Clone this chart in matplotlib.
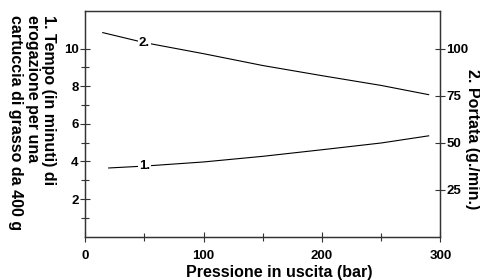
import matplotlib
matplotlib.use("Agg")
import matplotlib.pyplot as plt

plt.rcParams['font.family'] = ['Liberation Sans', 'DejaVu Sans']
plt.rcParams['font.weight'] = 'bold'

# curve 1: time per cartridge (minutes), left axis
press_1 = [20, 50, 100, 150, 200, 250, 290]
tempo = [3.65, 3.75, 3.97, 4.27, 4.62, 4.98, 5.36]

# curve 2: flow rate (g/min), right axis
press_2 = [15, 50, 100, 150, 200, 250, 290]
portata = [108.5, 103.2, 97.3, 91.0, 85.6, 80.4, 75.5]

x_ticks = [0, 100, 200, 300]
x_minor = [50, 150, 250]
left_ticks = [2, 4, 6, 8, 10]
left_minor = [1, 3, 5, 7, 9]
right_ticks = [25, 50, 75, 100]

spine_col = '#333333'

fig = plt.figure(figsize=(4.81, 2.80), dpi=100)
ax = fig.add_axes([85 / 481, 1 - 236.6 / 280, 355.5 / 481, 225.6 / 280])
ax2 = ax.twinx()

ax.plot(press_1, tempo, color='black', lw=0.8)
ax2.plot(press_2, portata, color='black', lw=0.8)

ax.text(50, 3.75, '1.', fontsize=9.5, fontweight='bold', ha='center', va='center',
        bbox=dict(facecolor='white', edgecolor='none', pad=0.8))
ax2.text(50, 103.2, '2.', fontsize=9.5, fontweight='bold', ha='center', va='center',
         bbox=dict(facecolor='white', edgecolor='none', pad=0.8))

ax.set_xlim(0, 300)
ax.set_ylim(0, 12)
ax2.set_ylim(0, 120)

ax.set_xticks(x_ticks)
ax.set_xticks(x_minor, minor=True)
ax.set_yticks(left_ticks)
ax.set_yticks(left_minor, minor=True)
ax2.set_yticks(right_ticks)

for a in (ax, ax2):
    for s in a.spines.values():
        s.set_color(spine_col)
        s.set_linewidth(0.9)
    a.tick_params(which='major', direction='inout', length=7.2, width=0.8,
                  color=spine_col, labelsize=9.5)
    a.tick_params(which='minor', direction='inout', length=5.5, width=0.8,
                  color=spine_col)
ax.tick_params(axis='x', pad=6)
ax.tick_params(axis='y', pad=1)
ax2.tick_params(axis='y', pad=0.5)

fig.text(32 / 481, 1 - 15 / 280,
         '1. Tempo (in minuti) di\nerogazione per una\ncartuccia di grasso da 400 g',
         rotation=270, ha='center', va='top', multialignment='left',
         fontsize=11.5, fontweight='bold', linespacing=1.12)
fig.text(473 / 481, 1 - 139 / 280, '2. Portata (g./min.)', rotation=270,
         ha='center', va='center', fontsize=11.5, fontweight='bold')
fig.text(279 / 481, 1 - 272 / 280, 'Pressione in uscita (bar)',
         ha='center', va='center', fontsize=11.5, fontweight='bold')

fig.savefig('out.png', dpi=100)
